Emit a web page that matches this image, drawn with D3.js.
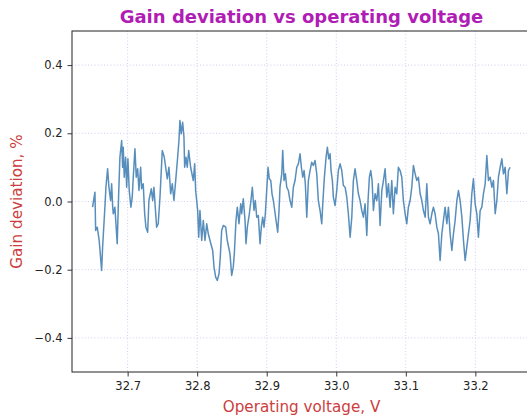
<!DOCTYPE html>
<html>
<head>
<meta charset="utf-8">
<script src="https://cdn.jsdelivr.net/npm/d3@7"></script>
<style>
  body { margin: 0; background: #fff; }
  svg { display: block; font-family: "DejaVu Sans", sans-serif; }
</style>
</head>
<body>
<div id="chart"></div>
<script>
// operating voltage, V
const voltage = [
  32.6496, 32.6530, 32.6540, 32.6563, 32.6591, 32.6626, 32.6640, 32.6673, 32.6688, 32.6712,
  32.6731, 32.6755, 32.6770, 32.6784, 32.6793, 32.6817, 32.6850, 32.6871, 32.6889, 32.6914,
  32.6928, 32.6937, 32.6951, 32.6971, 32.6986, 32.7004, 32.7023, 32.7047, 32.7066, 32.7081,
  32.7105, 32.7124, 32.7144, 32.7163, 32.7187, 32.7201, 32.7224, 32.7245, 32.7263, 32.7288,
  32.7306, 32.7340, 32.7360, 32.7378, 32.7417, 32.7440, 32.7465, 32.7498, 32.7527, 32.7547,
  32.7570, 32.7594, 32.7619, 32.7642, 32.7666, 32.7695, 32.7719, 32.7738, 32.7752, 32.7771,
  32.7791, 32.7810, 32.7820, 32.7839, 32.7857, 32.7878, 32.7906, 32.7944, 32.7964, 32.7978,
  32.7993, 32.8007, 32.8022, 32.8040, 32.8065, 32.8088, 32.8112, 32.8137, 32.8160, 32.8184,
  32.8223, 32.8242, 32.8266, 32.8289, 32.8314, 32.8332, 32.8352, 32.8376, 32.8410, 32.8433,
  32.8472, 32.8496, 32.8519, 32.8534, 32.8558, 32.8577, 32.8601, 32.8626, 32.8640, 32.8663,
  32.8688, 32.8702, 32.8721, 32.8750, 32.8770, 32.8793, 32.8817, 32.8836, 32.8856, 32.8879,
  32.8904, 32.8922, 32.8942, 32.8961, 32.8980, 32.8994, 32.9019, 32.9037, 32.9058, 32.9076,
  32.9095, 32.9115, 32.9134, 32.9158, 32.9177, 32.9191, 32.9216, 32.9230, 32.9249, 32.9268,
  32.9288, 32.9311, 32.9335, 32.9360, 32.9383, 32.9407, 32.9432, 32.9455, 32.9479, 32.9498,
  32.9518, 32.9537, 32.9555, 32.9576, 32.9599, 32.9623, 32.9647, 32.9670, 32.9695, 32.9719,
  32.9742, 32.9767, 32.9791, 32.9806, 32.9829, 32.9853, 32.9872, 32.9892, 32.9911, 32.9925,
  32.9944, 32.9958, 32.9983, 33.0007, 33.0030, 33.0055, 33.0079, 33.0102, 33.0127, 33.0151,
  33.0174, 33.0199, 33.0223, 33.0246, 33.0270, 33.0295, 33.0318, 33.0342, 33.0367, 33.0390,
  33.0414, 33.0439, 33.0457, 33.0476, 33.0496, 33.0515, 33.0534, 33.0558, 33.0583, 33.0606,
  33.0630, 33.0655, 33.0678, 33.0702, 33.0727, 33.0750, 33.0774, 33.0798, 33.0821, 33.0846,
  33.0870, 33.0893, 33.0918, 33.0942, 33.0965, 33.0990, 33.1014, 33.1037, 33.1062, 33.1086,
  33.1109, 33.1134, 33.1158, 33.1181, 33.1206, 33.1230, 33.1253, 33.1278, 33.1302, 33.1325,
  33.1349, 33.1374, 33.1397, 33.1421, 33.1446, 33.1469, 33.1493, 33.1518, 33.1541, 33.1565,
  33.1590, 33.1613, 33.1637, 33.1662, 33.1685, 33.1709, 33.1734, 33.1757, 33.1781, 33.1806,
  33.1829, 33.1853, 33.1877, 33.1900, 33.1925, 33.1949, 33.1972, 33.1997, 33.2021, 33.2044,
  33.2069, 33.2093, 33.2116, 33.2141, 33.2165, 33.2188, 33.2213, 33.2237, 33.2260, 33.2285,
  33.2309, 33.2332, 33.2357, 33.2381, 33.2404, 33.2428, 33.2453, 33.2476, 33.2500
];

// gain deviation, %
const gain = [
  -0.0167, 0.0273, -0.0850, -0.0753, -0.1143, -0.2022, -0.1339, -0.0167, 0.0419, 0.0958,
  0.0419, 0.0029, 0.0519, -0.0117, -0.0360, -0.0167, -0.1240, 0.0226, 0.1298, 0.1788,
  0.1005, 0.1591, 0.0712, 0.1298, 0.0419, 0.1251, 0.0322, -0.0167, 0.0126, 0.0712,
  0.1544, 0.0712, 0.0958, 0.0322, 0.1005, 0.0372, 0.0519, -0.0360, -0.0753, -0.0900,
  0.0029, 0.0372, 0.0029, 0.0419, -0.0753, -0.0653, 0.0126, 0.1494, 0.1298, 0.1005,
  0.0665, 0.1005, 0.0226, 0.0519, 0.0029, 0.0712, 0.1298, 0.1788, 0.2374, 0.1984,
  0.2324, 0.1884, 0.1005, 0.1298, 0.1005, 0.1494, 0.1005, 0.0615, 0.1105, 0.0322,
  0.0029, -0.0264, -0.1046, -0.0264, -0.1143, -0.0557, -0.1143, -0.0653, -0.0947, -0.1143,
  -0.1436, -0.1925, -0.2218, -0.2315, -0.2119, -0.1632, -0.0850, -0.0703, -0.0753, -0.1143,
  -0.1533, -0.2168, -0.1925, -0.1533, -0.0557, -0.0167, -0.0653, -0.0067, -0.0360, 0.0079,
  -0.0557, -0.1240, -0.0753, -0.0360, -0.0021, 0.0419, -0.0264, 0.0029, -0.0460, -0.0410,
  -0.1240, -0.0753, -0.0460, -0.0753, -0.0360, 0.0126, 0.1005, 0.0665, 0.0615, 0.0226,
  0.0029, -0.0264, -0.0557, -0.0900, -0.0264, 0.0419, 0.0812, 0.1494, 0.0615, 0.0812,
  0.0419, 0.0322, 0.0029, -0.0167, 0.0419, 0.0615, 0.1005, 0.1105, 0.1398, 0.1005,
  0.0712, 0.0908, 0.0519, -0.0460, 0.0615, 0.0908, 0.1152, 0.1055, 0.1201, 0.0812,
  0.0029, -0.0264, -0.0653, -0.0067, 0.0712, 0.1298, 0.1591, 0.1251, 0.1398, 0.0908,
  0.0615, 0.0126, -0.0117, 0.0322, 0.0908, 0.1105, 0.0908, 0.0469, 0.0419, 0.0126,
  -0.0360, -0.1046, -0.0460, 0.0615, 0.0958, 0.0615, 0.0226, 0.0029, -0.0264, -0.0460,
  -0.0067, -0.0996, 0.0029, 0.0712, 0.0908, 0.0615, -0.0264, 0.0226, 0.0029, 0.0519,
  -0.0703, 0.0322, 0.0615, 0.0958, 0.0126, 0.0519, -0.0167, 0.0615, -0.0360, 0.0419,
  0.0226, 0.1005, 0.0908, 0.0712, 0.0029, -0.0360, -0.0653, -0.0167, 0.0029, 0.0419,
  0.1055, 0.0812, 0.0615, 0.0712, 0.0226, 0.0029, -0.0264, -0.0460, 0.0519, -0.0460,
  -0.0653, -0.0360, -0.0167, -0.0360, -0.0753, -0.0947, -0.1729, -0.0947, -0.0557, -0.0167,
  -0.0653, -0.0167, -0.0947, -0.1436, -0.0947, -0.0557, 0.0029, 0.0322, 0.0029, -0.0460,
  -0.1143, -0.1729, -0.1339, -0.0947, -0.0557, 0.0226, 0.0665, -0.0067, -0.0360, -0.1046,
  -0.0264, -0.0167, 0.0226, 0.0519, 0.1348, 0.0615, 0.0712, 0.0419, 0.0615, -0.0360,
  0.0029, 0.0712, 0.1005, 0.1251, 0.0812, 0.1005, 0.0226, 0.0908, 0.1005
];

const xTicks = [32.7, 32.8, 32.9, 33.0, 33.1, 33.2];
const yTicks = [-0.4, -0.2, 0.0, 0.2, 0.4];

const width = 527, height = 416;
const margin = {top: 31, right: -4, bottom: 44, left: 72};

const svg = d3.select('#chart')
  .append('svg')
  .attr('width', width)
  .attr('height', height);

const x = d3.scaleLinear()
  .domain([32.62, 33.28])
  .range([margin.left, width - margin.right]);

const y = d3.scaleLinear()
  .domain([-0.5, 0.5])
  .range([height - margin.bottom, margin.top]);

// grid
const grid = svg.append('g').attr('class', 'grid');
grid.selectAll('.vg')
  .data(xTicks)
  .enter()
  .append('line')
  .attr('x1', d => x(d)).attr('x2', d => x(d))
  .attr('y1', margin.top).attr('y2', height - margin.bottom)
  .attr('stroke', '#c9c6f2')
  .attr('stroke-width', 0.9)
  .attr('stroke-dasharray', '1,2.2');
grid.selectAll('.hg')
  .data(yTicks)
  .enter()
  .append('line')
  .attr('y1', d => y(d)).attr('y2', d => y(d))
  .attr('x1', margin.left).attr('x2', width - margin.right)
  .attr('stroke', '#c9c6f2')
  .attr('stroke-width', 0.9)
  .attr('stroke-dasharray', '1,2.2');

// series
const points = voltage.map((v, i) => [v, gain[i]]);
const line = d3.line()
  .x(d => x(d[0]))
  .y(d => y(d[1]));

svg.append('path')
  .datum(points)
  .attr('d', line)
  .attr('fill', 'none')
  .attr('stroke', '#4682b4')
  .attr('stroke-opacity', 0.9)
  .attr('stroke-width', 1.5)
  .attr('stroke-linejoin', 'round');

// axes
const xAxis = svg.append('g')
  .attr('transform', `translate(0,${height - margin.bottom})`)
  .call(d3.axisBottom(x).tickValues(xTicks).tickFormat(d3.format('.1f')).tickSizeOuter(0).tickSize(4.5).tickPadding(5));

const yAxis = svg.append('g')
  .attr('transform', `translate(${margin.left},0)`)
  .call(d3.axisLeft(y).tickValues(yTicks).tickFormat(d3.format('.1f')).tickSizeOuter(0).tickSize(4.5).tickPadding(5));

[xAxis, yAxis].forEach(a => {
  a.select('.domain').remove();
  a.selectAll('text').attr('font-size', 11.5).attr('fill', '#222').attr('font-family', '"DejaVu Sans", sans-serif');
  a.selectAll('line').attr('stroke', '#222').attr('stroke-width', 0.9);
});

// frame
svg.append('rect')
  .attr('x', margin.left)
  .attr('y', margin.top)
  .attr('width', width - margin.right - margin.left)
  .attr('height', height - margin.bottom - margin.top)
  .attr('fill', 'none')
  .attr('stroke', '#222')
  .attr('stroke-width', 1);

// labels
svg.append('text')
  .attr('x', (margin.left + width - margin.right) / 2)
  .attr('y', 23)
  .attr('text-anchor', 'middle')
  .attr('font-size', 18)
  .attr('font-weight', 'bold')
  .attr('fill', '#b01db5')
  .text('Gain deviation vs operating voltage');

svg.append('text')
  .attr('x', (margin.left + width - margin.right) / 2)
  .attr('y', 412)
  .attr('text-anchor', 'middle')
  .attr('font-size', 15.2)
  .attr('fill', '#cc3d3d')
  .text('Operating voltage, V');

svg.append('text')
  .attr('transform', `translate(22,${(margin.top + height - margin.bottom) / 2}) rotate(-90)`)
  .attr('text-anchor', 'middle')
  .attr('font-size', 15.2)
  .attr('fill', '#cc3d3d')
  .text('Gain deviation, %');
</script>
</body>
</html>
